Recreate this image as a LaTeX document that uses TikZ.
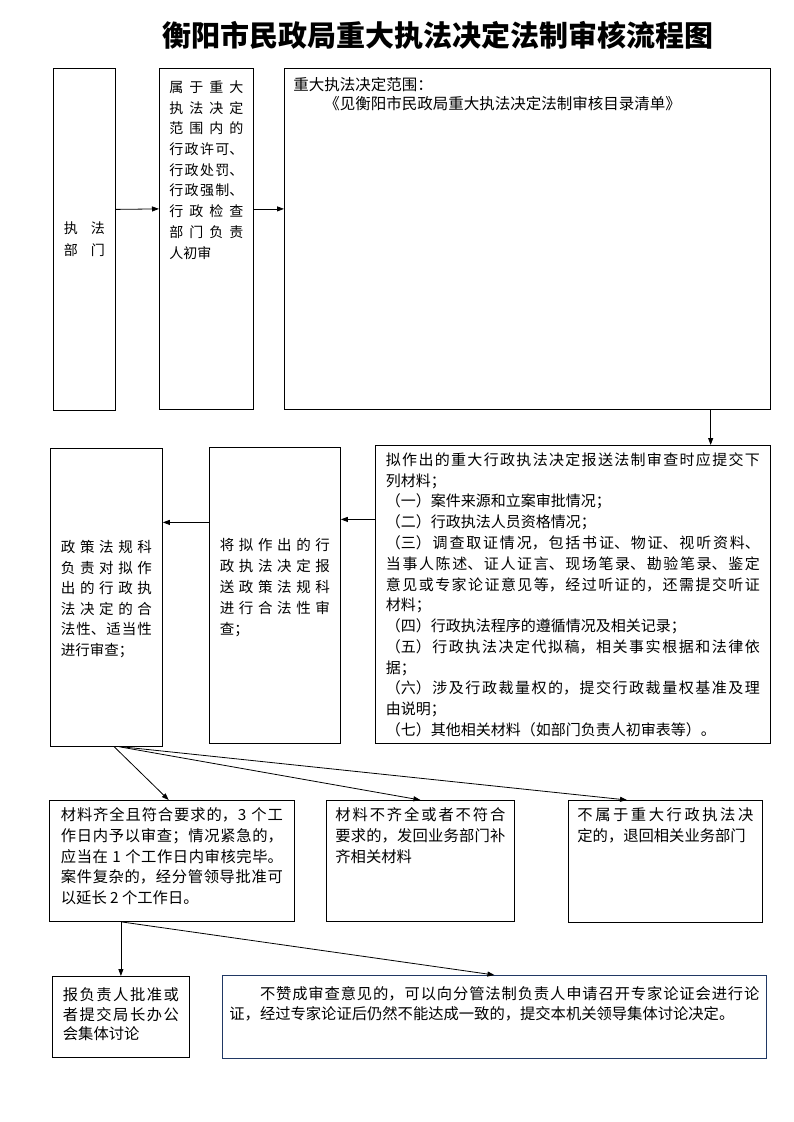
\documentclass[tikz,border=0pt]{standalone}
\usepackage{fontspec}
\setmainfont{Noto Sans CJK SC}
\XeTeXlinebreaklocale "zh"
\XeTeXlinebreakskip=0pt plus 1pt
\tolerance=10000
\hbadness=10000
\usetikzlibrary{arrows.meta}
\definecolor{boxblue}{HTML}{203864}
\tikzset{
	box/.style={draw,line width=.8pt,anchor=north west,inner sep=0pt,align=justify,font=\fontsize{14}{20.7}\selectfont},
	big/.style={font=\fontsize{15.3}{20.6}\selectfont},
	arr/.style={line width=.8pt,-{Triangle[length=7pt,width=5pt]}}
}

\begin{document}
\begin{tikzpicture}[x=1pt,y=-1pt]
	\useasboundingbox (0,0) rectangle (793,1122);
	\node[font=\fontsize{29}{34}\selectfont\bfseries] (title) at (438,35) {衡阳市民政局重大执法决定法制审核流程图};
	
	\node[box,align=center,minimum width=62pt,text width=42pt,text height=165pt,text depth=177pt] (zhifa) at (53,68) {执\hspace{13pt}法\\[1.3pt]部\hspace{13pt}门};
	\node[box,minimum width=94pt,text width=74pt,text height=24pt,text depth=317pt] (chushen) at (159,68) {属于重大\linebreak 执法决定\linebreak 范围内的\linebreak 行政许可、\linebreak 行政处罚、\linebreak 行政强制、\linebreak 行政检查\linebreak 部门负责\linebreak 人初审};
	\node[box,align=left,font=\fontsize{15.5}{19}\selectfont,minimum width=486pt,text width=468pt,text height=22pt,text depth=319pt] (fanwei) at (284,68) {重大执法决定范围：\\ \hspace*{2em}《见衡阳市民政局重大执法决定法制审核目录清单》};
	
	\node[box,font=\fontsize{15}{20.77}\selectfont,minimum width=395pt,text width=374pt,text height=20pt,text depth=278pt] (cailiao) at (375,445) {拟作出的重大行政执法决定报送法制审查时应提交下\linebreak 列材料；\\
		（一）案件来源和立案审批情况；\\
		（二）行政执法人员资格情况；\\
		（三）调查取证情况，包括书证、物证、视听资料、\linebreak 当事人陈述、证人证言、现场笔录、勘验笔录、鉴定\linebreak 意见或专家论证意见等，经过听证的，还需提交听证\linebreak 材料；\\
		（四）行政执法程序的遵循情况及相关记录；\\
		（五）行政执法决定代拟稿，相关事实根据和法律依\linebreak 据；\\
		（六）涉及行政裁量权的，提交行政裁量权基准及理\linebreak 由说明；\\
		（七）其他相关材料（如部门负责人初审表等）。};
	\node[box,font=\fontsize{14.5}{21}\selectfont,minimum width=131pt,text width=110pt,text height=103pt,text depth=193pt] (jiangni) at (209,447) {将拟作出的行\linebreak 政执法决定报\linebreak 送政策法规科\linebreak 进行合法性审\linebreak 查；};
	\node[box,font=\fontsize{14.5}{20.6}\selectfont,minimum width=112pt,text width=91pt,text height=104pt,text depth=194pt] (zhengce) at (50,448) {政策法规科\linebreak 负责对拟作\linebreak 出的行政执\linebreak 法决定的合\linebreak 法性、适当性\linebreak 进行审查；};
	
	\node[box,big,minimum width=245pt,text width=222pt,text height=20.5pt,text depth=100.5pt] (qiquan) at (49,800) {材料齐全且符合要求的，3 个工\linebreak 作日内予以审查；情况紧急的，\linebreak 应当在 1 个工作日内审核完毕。\linebreak 案件复杂的，经分管领导批准可\linebreak 以延长 2 个工作日。};
	\node[box,big,minimum width=188pt,text width=170pt,text height=20.5pt,text depth=100.5pt] (buqi) at (326,800) {材料不齐全或者不符合\linebreak 要求的，发回业务部门补\linebreak 齐相关材料};
	\node[box,big,minimum width=194pt,text width=176pt,text height=20.5pt,text depth=101.5pt] (bushuyu) at (568,800) {不属于重大行政执法决\linebreak 定的，退回相关业务部门};
	
	\node[box,font=\fontsize{15.3}{19.5}\selectfont,minimum width=137pt,text width=116pt,text height=24.5pt,text depth=56.5pt] (baofuze) at (52,976) {报负责人批准或\linebreak 者提交局长办公\linebreak 会集体讨论};
	\node[box,font=\fontsize{15.3}{19.5}\selectfont,draw=boxblue,minimum width=544pt,text width=530pt,text height=24.5pt,text depth=58.5pt] (buzancheng) at (222,975) {\hspace*{2em}不赞成审查意见的，可以向分管法制负责人申请召开专家论证会进行论\linebreak 证，经过专家论证后仍然不能达成一致的，提交本机关领导集体讨论决定。};
	
	\draw[arr] ([yshift=30pt]zhifa.east) -- ([yshift=30pt]chushen.west);
	\draw[arr] ([yshift=30pt]chushen.east) -- ([yshift=30pt]fanwei.west);
	\draw[arr] (fanwei.-43.8) -- (fanwei.-43.8 |- cailiao.north);
	\draw[arr] ([yshift=75pt]cailiao.west) -- ([yshift=76pt]jiangni.east);
	\draw[arr] ([yshift=73pt]jiangni.west) -- ([yshift=75pt]zhengce.east);
	\draw[arr] (zhengce.-87) -- (qiquan.93);
	\draw[arr] (zhengce.-85) -- (buqi.north);
	\draw[arr] (zhengce.-84) -- (bushuyu.122);
	\draw[arr] (baofuze.north |- qiquan.south) -- (baofuze.north);
	\draw[arr] (baofuze.north |- qiquan.south) -- (buzancheng.north);
\end{tikzpicture}
\end{document}
